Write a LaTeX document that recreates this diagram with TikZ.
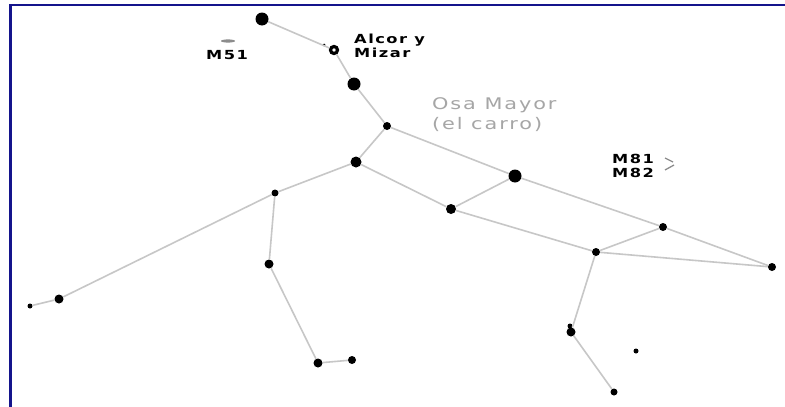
\documentclass[tikz,border=0pt]{standalone}
\usepackage{fontspec}
\usetikzlibrary{positioning}
\newfontfamily\labelfont[FakeStretch=1.3,LetterSpace=12]{DejaVu Sans}
\definecolor{frameblue}{RGB}{20,20,140}
\tikzstyle{star}=[circle,fill=black,draw=none,inner sep=0pt]
\tikzstyle{doublestar}=[circle,fill=white,draw=black,line width=3.2pt,minimum size=7pt,inner sep=0pt]
\tikzstyle{line}=[draw,black!22,line width=1.6pt]
\tikzstyle{starname}=[anchor=base west,inner sep=0pt,font=\labelfont\bfseries\fontsize{12.5}{14}\selectfont]
\tikzstyle{bigname}=[anchor=base west,inner sep=0pt,text=black!35,font=\labelfont\fontsize{16}{20}\selectfont]

\begin{document}
\begin{tikzpicture}[x=1pt,y=-1pt]
  \useasboundingbox (0,0) rectangle (785,407);
  \fill[white] (0,0) rectangle (785,407);
  \draw[frameblue,line width=2.6pt] (10.5,407) -- (10.5,5) -- (785,5);

  % stars: position / name / diameter
  \foreach \pos/\name/\size in {{(262,19)/alkaid/13}, {(354,84)/alioth/13}, {(387,126)/megrez/8},
      {(356,162)/phecda/11}, {(515,176)/dubhe/13}, {(451,209)/merak/10},
      {(663,227)/h1/8}, {(772,267)/h2/8}, {(596,252)/h3/8},
      {(571,332)/f1/9}, {(570,326)/f0/5}, {(614,392)/f2/7}, {(636,351)/f3/5},
      {(275,193)/l1/7}, {(59,299)/l2/9}, {(30,306)/l3/5},
      {(269,264)/l4/9}, {(318,363)/l5/9}, {(352,360)/l6/8}}
    \node[star,minimum size=\size pt] (\name) at \pos {};
  \node[doublestar] (mizar) at (334,50) {};
  \node[star,minimum size=3pt] (alcor) at (324,45) {};

  \foreach \source/\dest in {alkaid/mizar, mizar/alioth, alioth/megrez, megrez/phecda, megrez/dubhe,
      phecda/merak, merak/dubhe, dubhe/h1, h1/h2, merak/h3, h3/h2, h3/h1, h3/f1, f1/f2,
      phecda/l1, l1/l2, l2/l3, l1/l4, l4/l5, l5/l6}
    \path[line] (\source) -- (\dest);

  % galaxies
  \fill[black!45] (228,41) ellipse (7 and 1.6);
  \draw[black!45,line width=1.3pt] (665,158) -- (673,162) (665,170) -- (674,165);

  \node[starname] (alcorname) at (354,43) {Alcor y};
  \node[starname] (mizarname) at (354,57) {Mizar};
  \node[starname] (m51) at (206,59) {M51};
  \node[starname] (m81) at (612,163) {M81};
  \node[starname] (m82) at (612,177) {M82};
  \node[bigname] (osa) at (432,109) {Osa Mayor};
  \node[bigname] (carro) at (432,129) {(el carro)};
\end{tikzpicture}
\end{document}
